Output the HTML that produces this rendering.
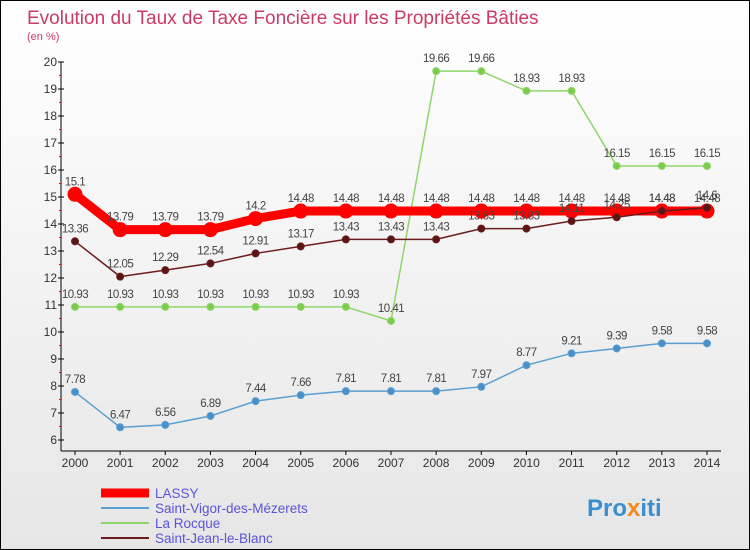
<!DOCTYPE html>
<html><head><meta charset="utf-8"><style>
body{margin:0}
#c{width:748px;height:548px;border:1px solid #000;position:relative;background:linear-gradient(#fff,#e6e6e6);font-family:"Liberation Sans",sans-serif;overflow:hidden}
svg{position:absolute;left:0;top:0}
</style></head><body>
<div id="c">
<svg id="s" width="748" height="548" xmlns="http://www.w3.org/2000/svg">
<text x="26" y="23" font-size="19" fill="#cc3a66">Evolution du Taux de Taxe Foncière sur les Propriétés Bâties</text>
<text x="26" y="39" font-size="11" fill="#cc3a66">(en %)</text>
<text x="586" y="515" font-size="24" font-weight="bold" fill="#3a8fd0">Pro<tspan fill="#f08a20">x</tspan>iti</text>
</svg></div>
<script>
const years=[2000,2001,2002,2003,2004,2005,2006,2007,2008,2009,2010,2011,2012,2013,2014];
const lassy=[15.1,13.79,13.79,13.79,14.2,14.48,14.48,14.48,14.48,14.48,14.48,14.48,14.48,14.48,14.48];
const vigor=[7.78,6.47,6.56,6.89,7.44,7.66,7.81,7.81,7.81,7.97,8.77,9.21,9.39,9.58,9.58];
const rocque=[10.93,10.93,10.93,10.93,10.93,10.93,10.93,10.41,19.66,19.66,18.93,18.93,16.15,16.15,16.15];
const jean=[13.36,12.05,12.29,12.54,12.91,13.17,13.43,13.43,13.43,13.83,13.83,14.11,14.25,14.48,14.6];
const yTicks=[6,7,8,9,10,11,12,13,14,15,16,17,18,19,20];
const names=["LASSY","Saint-Vigor-des-Mézerets","La Rocque","Saint-Jean-le-Blanc"];
const NS="http://www.w3.org/2000/svg",s=document.getElementById('s');
const X=i=>74+i*(632/14), Y=v=>439-(v-6)*27;
function el(t,a,p){const e=document.createElementNS(NS,t);for(const k in a)e.setAttribute(k,a[k]);(p||s).appendChild(e);return e;}
let ax=el('line',{x1:60,y1:61,x2:60,y2:450,stroke:'#000'});


let xa=el('line',{x1:60,y1:450,x2:720,y2:450,stroke:'#000'});


yTicks.forEach(v=>{el('line',{x1:57,y1:Y(v),x2:63,y2:Y(v),stroke:'#000'});
 if(v<20)el('line',{x1:58,y1:Y(v+0.5),x2:60,y2:Y(v+0.5),stroke:'#f00'});
 const t=el('text',{x:56,y:Y(v)+4,'font-size':12,fill:'#333','text-anchor':'end'});t.textContent=v;
 
 });
years.forEach((y,i)=>{el('line',{x1:X(i),y1:450,x2:X(i),y2:454,stroke:'#000'});
 const t=el('text',{x:X(i),y:466,'font-size':12,fill:'#333','text-anchor':'middle'});t.textContent=y;
 
 });
function series(d,col,w,r,dot,name){
 const g=el('g',{});
 
 
 el('polyline',{points:d.map((v,i)=>X(i)+','+Y(v)).join(' '),fill:'none',stroke:col,'stroke-width':w},g);
 d.forEach((v,i)=>{const c=el('circle',{cx:X(i),cy:Y(v),r:r,fill:dot,stroke:col,'stroke-width':1},g);
  
  
  const t=el('text',{x:X(i),y:Y(v)-9,'font-size':11.5,fill:'#444','text-anchor':'middle','letter-spacing':'-0.5'},g);t.textContent=v;});
}
series(rocque,'#8fd66a',1.5,3.5,'#7acc4a','series-la-rocque');
series(vigor,'#5b9fd0',1.5,3.5,'#4a8fc8','series-saint-vigor');
series(lassy,'#f00',9,7,'#f00','series-lassy');
series(jean,'#6b1c1c',1.5,3.5,'#5a1515','series-saint-jean');
const lc=['#f00','#5b9fd0','#8fd66a','#6b1c1c'],lw=[9,2,2,2];
names.forEach((n,i)=>{const y=492+i*15;
 const l=el('line',{x1:100,y1:y,x2:148,y2:y,stroke:lc[i],'stroke-width':lw[i]});
 
 
 const t=el('text',{x:154,y:y+5,'font-size':13.5,fill:'#5a55d8'});t.textContent=n;
 
 });
</script>
</body></html>
